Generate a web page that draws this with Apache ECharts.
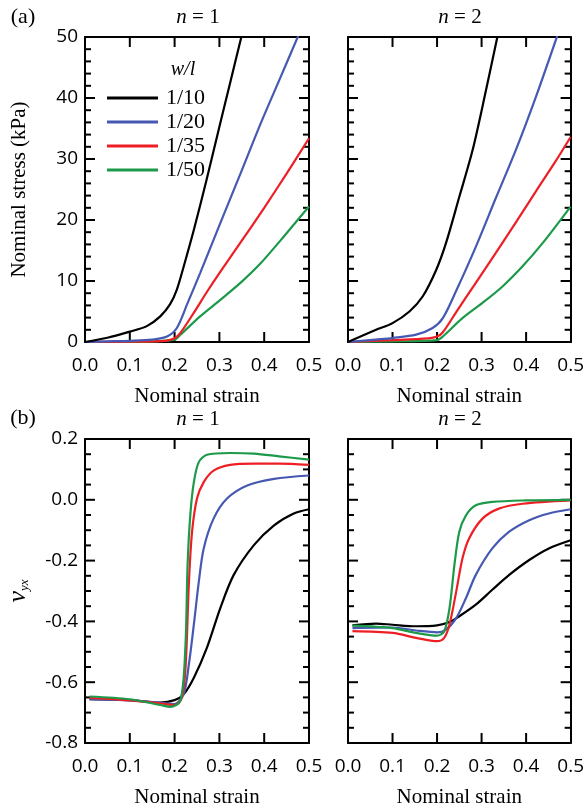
<!DOCTYPE html>
<html>
<head>
<meta charset="utf-8">
<title>stress strain</title>
<script src="https://cdn.jsdelivr.net/npm/echarts@6/dist/echarts.min.js"></script>
<style>
  html, body { margin: 0; padding: 0; background: #fff; }
  #chart { width: 587px; height: 809px; }
</style>
</head>
<body>
<div id="chart"></div>
<script>
// widths w/l, one line per width
var widthNames = ['1/10', '1/20', '1/35', '1/50'];
var lineColors = ['#000000', '#4659b2', '#ed1f24', '#1c9a4a'];

// tick positions
var strainTicks = [0.1, 0.2, 0.3, 0.4];
var stressTicks = [10, 20, 30, 40];
var nuTicks = [-0.6, -0.4, -0.2, 0.0];

// (a) nominal stress (kPa) vs nominal strain, n = 1
var stressN1_10 = [[0,0],[0.05,0.7],[0.1,1.7],[0.138,2.6],[0.168,4.2],[0.19,6.2],[0.205,8.6],[0.22,12.3],[0.243,18.4],[0.27,26.2],[0.3,35.3],[0.325,42.8],[0.35,50.3]];
var stressN1_20 = [[0,0],[0.05,0.1],[0.1,0.2],[0.15,0.4],[0.183,0.9],[0.205,2.3],[0.228,6.2],[0.257,11.3],[0.302,19.5],[0.347,27.6],[0.392,35.8],[0.437,43.5],[0.476,50.2]];
var stressN1_35 = [[0,0],[0.1,0.05],[0.18,0.2],[0.2,0.6],[0.213,1.5],[0.243,4.8],[0.272,8.2],[0.3,11.3],[0.35,16.6],[0.4,22],[0.45,27.6],[0.5,33.4]];
var stressN1_50 = [[0,0],[0.1,0],[0.2,0.4],[0.213,1.2],[0.257,4.2],[0.302,6.9],[0.35,9.9],[0.392,12.9],[0.437,16.7],[0.47,19.6],[0.5,22.2]];

// (a) n = 2
var stressN2_10 = [[0,0],[0.063,2.0],[0.1,3.1],[0.138,5.0],[0.168,7.5],[0.198,11.8],[0.22,16.2],[0.25,23.8],[0.28,31.5],[0.31,41.3],[0.336,50.2]];
var stressN2_20 = [[0,0],[0.063,0.4],[0.1,0.65],[0.153,1.2],[0.19,2.3],[0.213,3.9],[0.243,8.4],[0.287,15.6],[0.332,23.6],[0.377,31.5],[0.422,40.2],[0.47,50.2]];
var stressN2_35 = [[0,0],[0.1,0.3],[0.18,0.6],[0.2,0.9],[0.213,1.6],[0.243,4.9],[0.287,9.7],[0.332,14.6],[0.377,19.6],[0.422,24.7],[0.466,29.6],[0.5,33.6]];
var stressN2_50 = [[0,0],[0.1,0.1],[0.2,0.3],[0.213,0.9],[0.257,3.9],[0.302,6.4],[0.347,9.1],[0.392,12.4],[0.437,16.2],[0.5,22.2]];

// (b) poisson ratio v_yx vs nominal strain, n = 1
var nuN1_10 = [[0.01,-0.656],[0.1,-0.659],[0.168,-0.667],[0.2,-0.659],[0.22,-0.64],[0.243,-0.585],[0.272,-0.487],[0.302,-0.356],[0.332,-0.247],[0.377,-0.149],[0.422,-0.084],[0.466,-0.045],[0.5,-0.031]];
var nuN1_20 = [[0.01,-0.656],[0.1,-0.66],[0.17,-0.668],[0.2,-0.672],[0.22,-0.64],[0.232,-0.54],[0.243,-0.41],[0.254,-0.27],[0.265,-0.16],[0.287,-0.062],[0.317,0.004],[0.362,0.047],[0.422,0.069],[0.5,0.08]];
var nuN1_35 = [[0.01,-0.652],[0.1,-0.66],[0.17,-0.67],[0.2,-0.675],[0.215,-0.655],[0.224,-0.563],[0.232,-0.27],[0.239,-0.105],[0.25,0.004],[0.265,0.058],[0.287,0.096],[0.324,0.115],[0.377,0.119],[0.433,0.119],[0.5,0.115]];
var nuN1_50 = [[0.01,-0.647],[0.1,-0.656],[0.168,-0.675],[0.19,-0.681],[0.213,-0.661],[0.224,-0.487],[0.229,-0.214],[0.235,-0.051],[0.243,0.058],[0.254,0.124],[0.272,0.148],[0.324,0.154],[0.377,0.152],[0.433,0.143],[0.5,0.132]];

// (b) n = 2
var nuN2_10 = [[0.01,-0.413],[0.063,-0.407],[0.1,-0.411],[0.153,-0.416],[0.2,-0.413],[0.228,-0.402],[0.25,-0.383],[0.287,-0.345],[0.324,-0.296],[0.362,-0.247],[0.407,-0.198],[0.451,-0.16],[0.5,-0.133]];
var nuN2_20 = [[0.01,-0.422],[0.1,-0.42],[0.153,-0.43],[0.2,-0.436],[0.22,-0.427],[0.243,-0.389],[0.265,-0.323],[0.287,-0.247],[0.324,-0.16],[0.362,-0.105],[0.407,-0.067],[0.451,-0.045],[0.5,-0.031]];
var nuN2_35 = [[0.01,-0.432],[0.1,-0.438],[0.153,-0.454],[0.2,-0.465],[0.216,-0.454],[0.228,-0.41],[0.243,-0.302],[0.257,-0.193],[0.272,-0.127],[0.302,-0.062],[0.339,-0.029],[0.392,-0.013],[0.5,-0.002]];
var nuN2_50 = [[0.01,-0.414],[0.1,-0.422],[0.153,-0.438],[0.2,-0.447],[0.216,-0.433],[0.228,-0.356],[0.239,-0.214],[0.25,-0.105],[0.265,-0.051],[0.287,-0.018],[0.324,-0.007],[0.399,-0.002],[0.5,0]];

var panelData = [
  [stressN1_10, stressN1_20, stressN1_35, stressN1_50],
  [stressN2_10, stressN2_20, stressN2_35, stressN2_50],
  [nuN1_10, nuN1_20, nuN1_35, nuN1_50],
  [nuN2_10, nuN2_20, nuN2_35, nuN2_50]
];

var sans = "'Open Sans', sans-serif";
var serif = "'Liberation Serif', 'Times New Roman', serif";

var myChart = echarts.init(document.getElementById('chart'));

var grids = [
  { left: 85, top: 37, width: 224, height: 305 },
  { left: 348, top: 37, width: 224, height: 305 },
  { left: 85, top: 439, width: 224, height: 304 },
  { left: 348, top: 439, width: 224, height: 304 }
];

function fmt1(v) {
  if (Math.abs(v) < 1e-9) return '0.0';
  return v.toFixed(1);
}

// minor y ticks between the labelled ones
var stressMinor = [], nuMinor = [];
for (var i = 1; i < 25; i++) if (i % 5) stressMinor.push(i * 2);
for (var j = 1; j < 20; j++) if (j % 4) nuMinor.push(Math.round((-0.8 + j * 0.05) * 1000) / 1000);

// tick items: [0 = x tick / 1 = y tick, value, length]
function tickItems(isStress) {
  var items = [];
  strainTicks.forEach(function (v) { items.push([0, v, 10]); });
  (isStress ? stressTicks : nuTicks).forEach(function (v) { items.push([1, v, 10]); });
  (isStress ? stressMinor : nuMinor).forEach(function (v) { items.push([1, v, 6]); });
  return items;
}

// inward ticks on all four sides of a panel, placed through the axes
function renderTick(params, api) {
  var cs = params.coordSys;
  var kind = api.value(0), v = api.value(1), len = api.value(2);
  var st = { stroke: '#000', lineWidth: 2 };
  if (kind == 0) {
    var x = api.coord([v, 0])[0];
    var yb = cs.y + cs.height;
    return { type: 'group', children: [
      { type: 'line', shape: { x1: x, y1: yb, x2: x, y2: yb - len }, style: st },
      { type: 'line', shape: { x1: x, y1: cs.y, x2: x, y2: cs.y + len }, style: st }
    ] };
  }
  var y = api.coord([0, v])[1];
  var xr = cs.x + cs.width;
  return { type: 'group', children: [
    { type: 'line', shape: { x1: cs.x, y1: y, x2: cs.x + len, y2: y }, style: st },
    { type: 'line', shape: { x1: xr, y1: y, x2: xr - len, y2: y }, style: st }
  ] };
}

function frameLine() {
  return { show: true, onZero: false, lineStyle: { color: '#000', width: 2 } };
}

var xAxes = [], yAxes = [], series = [];

for (var g = 0; g < 4; g++) {
  var isStress = g < 2;
  // bottom and top x axis
  xAxes.push({
    gridIndex: g, type: 'value', position: 'bottom', min: 0, max: 0.5, interval: 0.1,
    axisLine: frameLine(), splitLine: { show: false }, axisTick: { show: false },
    axisLabel: { color: '#000', fontFamily: sans, fontSize: 19, margin: 14, formatter: fmt1 },
    name: 'Nominal strain', nameLocation: 'middle', nameGap: 44,
    nameTextStyle: { color: '#000', fontFamily: serif, fontSize: 21 }
  });
  xAxes.push({
    gridIndex: g, type: 'value', position: 'top', min: 0, max: 0.5, interval: 0.1,
    axisLine: frameLine(), splitLine: { show: false }, axisLabel: { show: false }, axisTick: { show: false }
  });
  var yMin = isStress ? 0 : -0.8, yMax = isStress ? 50 : 0.2, yInt = isStress ? 10 : 0.2;
  var yLeft = {
    gridIndex: g, type: 'value', position: 'left', min: yMin, max: yMax, interval: yInt,
    axisLine: frameLine(), splitLine: { show: false }, axisTick: { show: false },
    axisLabel: { show: g % 2 == 0, color: '#000', fontFamily: sans, fontSize: 19, margin: 7,
      formatter: isStress ? function (v) { return String(Math.round(v)); } : fmt1 }
  };
  if (g == 0) {
    yLeft.name = 'Nominal stress (kPa)';
    yLeft.nameLocation = 'middle';
    yLeft.nameGap = 55;
    yLeft.nameTextStyle = { color: '#000', fontFamily: serif, fontSize: 21 };
  }
  if (g == 2) {
    yLeft.name = '{v|ν}{s|yx}';
    yLeft.nameLocation = 'middle';
    yLeft.nameGap = 54;
    yLeft.nameTextStyle = {
      rich: {
        v: { color: '#000', fontFamily: serif, fontStyle: 'italic', fontSize: 26, lineHeight: 26 },
        s: { color: '#000', fontFamily: serif, fontStyle: 'italic', fontSize: 13, lineHeight: 26, verticalAlign: 'bottom' }
      }
    };
  }
  yAxes.push(yLeft);
  yAxes.push({
    gridIndex: g, type: 'value', position: 'right', min: yMin, max: yMax, interval: yInt,
    axisLine: frameLine(), splitLine: { show: false }, axisLabel: { show: false }, axisTick: { show: false }
  });

  for (var k = 0; k < 4; k++) {
    series.push({
      name: widthNames[k], type: 'line', xAxisIndex: 2 * g, yAxisIndex: 2 * g,
      data: panelData[g][k], showSymbol: false, symbol: 'none',
      smooth: 0.3, clip: true,
      lineStyle: { color: lineColors[k], width: 2.2 },
      itemStyle: { color: lineColors[k] },
      z: isStress ? 10 - k : 2 + k
    });
  }
  series.push({
    type: 'custom', xAxisIndex: 2 * g, yAxisIndex: 2 * g,
    data: tickItems(isStress), renderItem: renderTick,
    silent: true, clip: false, z: 1
  });
}

function label(txt, x, y, size, italic) {
  return {
    type: 'text', x: x, y: y,
    style: { text: txt, fill: '#000', font: (italic ? 'italic ' : '') + size + 'px ' + serif,
      textAlign: 'center', textVerticalAlign: 'middle' }
  };
}

function nTitle(n, x, y) {
  return {
    type: 'text', x: x, y: y,
    style: {
      text: '{i|n} = ' + n, textAlign: 'center', textVerticalAlign: 'middle',
      fill: '#000', font: '21px ' + serif,
      rich: { i: { fontFamily: serif, fontStyle: 'italic', fontSize: 21, fill: '#000' } }
    }
  };
}

var option = {
  animation: false,
  backgroundColor: '#fff',
  tooltip: { show: false },
  grid: grids,
  xAxis: xAxes,
  yAxis: yAxes,
  legend: {
    data: widthNames, orient: 'vertical', left: 102, top: 82,
    icon: 'rect', itemWidth: 51, itemHeight: 3, itemGap: 2,
    textStyle: { color: '#000', fontFamily: serif, fontSize: 22, lineHeight: 22, padding: [0, 0, 0, 3] },
    selectedMode: false
  },
  graphic: [
    label('(a)', 23, 17, 22, false),
    label('(b)', 23, 418, 22, false),
    nTitle(1, 198, 17),
    nTitle(2, 460, 17),
    nTitle(1, 198, 419),
    nTitle(2, 460, 419),
    label('w/l', 183, 70, 20, true)
  ],
  series: series
};

myChart.setOption(option);
</script>
</body>
</html>
